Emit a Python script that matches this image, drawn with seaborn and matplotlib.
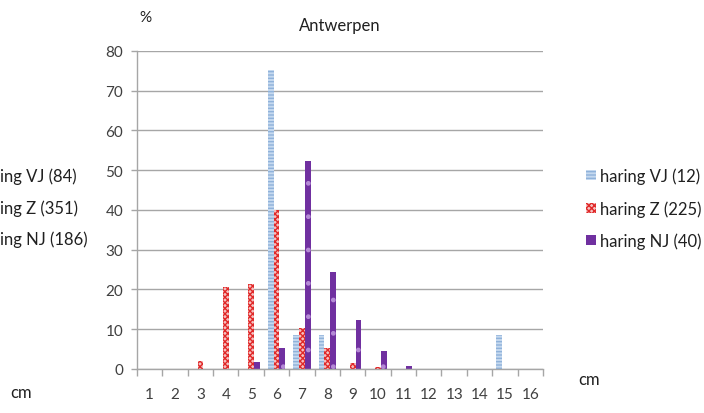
import matplotlib
matplotlib.use("Agg")
import matplotlib.pyplot as plt
from matplotlib.patches import Patch
import pandas as pd
import seaborn as sns

# lengths (cm) and percentage per group
lengths = list(range(1, 17))
vj = [0, 0, 0, 0, 0, 75.2, 8.6, 8.6, 0, 0, 0, 0, 0, 0, 8.6, 0]
z = [0, 0, 1.9, 20.6, 21.4, 40.0, 10.4, 5.2, 1.5, 0.6, 0, 0, 0, 0, 0, 0]
nj = [0, 0, 0, 0, 1.8, 5.3, 52.3, 24.4, 12.2, 4.5, 0.8, 0, 0, 0, 0, 0]
series = ["haring VJ (12)", "haring Z (225)", "haring NJ (40)"]
yticks = list(range(0, 90, 10))
cut_legend = ["ing VJ (84)", "ing Z (351)", "ing NJ (186)"]

rows = []
for name, vals in zip(series, [vj, z, nj]):
    for l, v in zip(lengths, vals):
        rows.append({"cm": str(l), "pct": v, "groep": name})
df = pd.DataFrame(rows)

sns.set_style("white")
plt.rcParams['font.family'] = ['Lato', 'DejaVu Sans']
plt.rcParams['hatch.linewidth'] = 1.0

fig = plt.figure(figsize=(7.04, 4.14), dpi=100)
ax = fig.add_axes([0.1946, 0.1063, 0.5767, 0.7681])

faces = ["#c5d9ef", "#f6c0c0", "#7030a0"]
hatch_cols = ["#8fb2da", "#e02828", "#b58ad6"]
hatches = ["-----", "xxxxxx", "."]
sns.barplot(data=df, x="cm", y="pct", hue="groep", order=[str(l) for l in lengths],
            hue_order=series, palette=faces, width=0.68, gap=0, ax=ax, legend=False,
            linewidth=0, saturation=1)

for cont, fc, hc, h in zip(ax.containers, faces, hatch_cols, hatches):
    for p in cont:
        p.set_facecolor(fc)
        p.set_edgecolor(hc)
        p.set_hatch(h)
        p.set_linewidth(0)

ax.set_ylim(0, 80)
ax.set_xlim(-0.5, 15.5)
ax.set_yticks(yticks)
ax.yaxis.grid(True, color="#a6a6a6", linewidth=1)
ax.set_axisbelow(True)
ax.set_xlabel("")
ax.set_ylabel("")
for s in ["top", "right"]:
    ax.spines[s].set_visible(False)
for s in ["left", "bottom"]:
    ax.spines[s].set_color("#a6a6a6")
    ax.spines[s].set_linewidth(1)

ax.set_xticks([i - 0.5 for i in range(17)], minor=True)
ax.tick_params(axis="x", which="minor", length=5, color="#a6a6a6", width=1, direction="out", bottom=True)
ax.tick_params(axis="x", which="major", length=0, pad=13, labelsize=11, labelcolor="#404040")
ax.tick_params(axis="y", length=4, color="#a6a6a6", width=1, direction="out", left=True, pad=6,
               labelsize=11, labelcolor="#404040")

ax.set_title("Antwerpen", fontsize=12, color="#202020", pad=15)

handles = [Patch(facecolor=fc, edgecolor=hc, hatch=h, linewidth=0)
           for fc, hc, h in zip(faces, hatch_cols, hatches)]
leg = ax.legend(handles, series, loc="upper left", bbox_to_anchor=(1.07, 0.68), frameon=False,
                fontsize=12, handlelength=0.55, handleheight=0.55, handletextpad=0.25, labelspacing=0.95)
for t in leg.get_texts():
    t.set_color("#202020")

fig.text(139 / 704, 1 - 18 / 414, "%", fontsize=11, color="#202020", va="center", ha="left")
fig.text(578 / 704, 1 - 380 / 414, "cm", fontsize=12, color="#202020", va="center", ha="left")
fig.text(10 / 704, 1 - 393 / 414, "cm", fontsize=12, color="#202020", va="center", ha="left")
for i, t in enumerate(cut_legend):
    fig.text(0.0, 1 - (177 + i * 31.5) / 414, t, fontsize=12, color="#202020", va="center", ha="left")

fig.savefig("out.png", dpi=100)
